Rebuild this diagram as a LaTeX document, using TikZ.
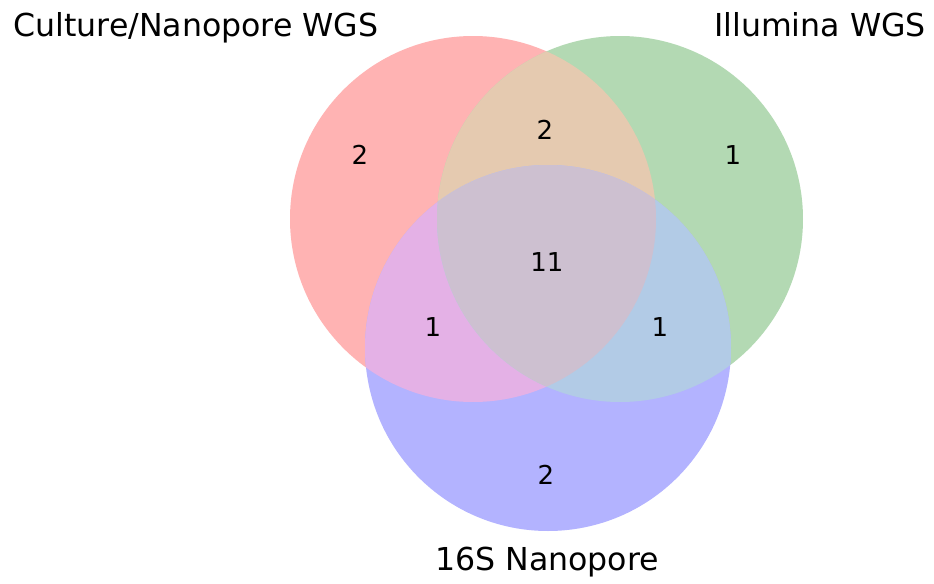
\documentclass[tikz,border=0pt]{standalone}
\usepackage{fontspec}
\setmainfont{DejaVu Sans}
\definecolor{onlyR}{RGB}{255,179,179}
\definecolor{onlyG}{RGB}{179,217,179}
\definecolor{onlyB}{RGB}{179,179,255}
\definecolor{mixRG}{RGB}{229,202,176}
\definecolor{mixRB}{RGB}{228,177,230}
\definecolor{mixGB}{RGB}{178,203,230}
\definecolor{mixRGB}{RGB}{205,192,208}
\begin{document}
\begin{tikzpicture}[x=0.5pt, y=-0.5pt,
  setlbl/.style={font=\fontsize{15.8}{18}\selectfont, inner sep=0pt, anchor=base},
  cnt/.style={font=\fontsize{13}{15}\selectfont, inner sep=0pt},
]
\useasboundingbox (0,0) rectangle (934,584);

% circle centres
\coordinate (cR) at (473,219);
\coordinate (cG) at (620,219);
\coordinate (cB) at (548,348);
\def\rad{91.5pt}

% single sets
\fill[onlyR] (cR) circle [radius=\rad];
\fill[onlyG] (cG) circle [radius=\rad];
\fill[onlyB] (cB) circle [radius=\rad];

% pairwise overlaps
\begin{scope}
  \clip (cR) circle [radius=\rad];
  \fill[mixRG] (cG) circle [radius=\rad];
  \fill[mixRB] (cB) circle [radius=\rad];
\end{scope}
\begin{scope}
  \clip (cG) circle [radius=\rad];
  \fill[mixGB] (cB) circle [radius=\rad];
\end{scope}

% all three
\begin{scope}
  \clip (cR) circle [radius=\rad];
  \clip (cG) circle [radius=\rad];
  \fill[mixRGB] (cB) circle [radius=\rad];
\end{scope}

% set labels
\node[setlbl] (lblR) at (196,36) {Culture/Nanopore WGS};
\node[setlbl] (lblG) at (820,36) {Illumina WGS};
\node[setlbl] (lblB) at (547,570) {16S Nanopore};

% subset counts
\node[cnt] (nR)   at (360,155) {2};
\node[cnt] (nG)   at (733,155) {1};
\node[cnt] (nB)   at (546,475) {2};
\node[cnt] (nRG)  at (545,130) {2};
\node[cnt] (nRB)  at (433,327) {1};
\node[cnt] (nGB)  at (660,327) {1};
\node[cnt] (nRGB) at (547,262) {11};

\end{tikzpicture}
\end{document}
